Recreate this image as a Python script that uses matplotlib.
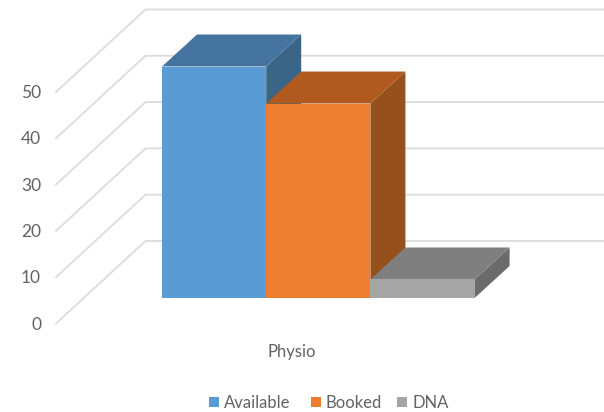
import matplotlib
matplotlib.use('Agg')
import matplotlib.pyplot as plt
from matplotlib.patches import Polygon, Rectangle

plt.rcParams['font.family'] = ['Lato', 'DejaVu Sans']

category = "Physio"
series = ["Available", "Booked", "DNA"]
values = [50, 42, 4]
ticks = [0, 10, 20, 30, 40, 50]

front_colors = ['#5b9bd5', '#ed7d31', '#a5a5a5']
top_colors = ['#4674a0', '#b05a20', '#7f7f7f']
side_colors = ['#3a6587', '#96501b', '#6b6b6b']

# Achsen in Pixeln des Bildes, die 3D-Ansicht wird von Hand projiziert
fig = plt.figure(figsize=(6.04, 4.12), dpi=100)
ax = fig.add_axes([0, 0, 1, 1])
ax.set_xlim(0, 604)
ax.set_ylim(412, 0)
ax.axis('off')

x_front, y_zero = 56, 323.5
x_back, y_back = 145.5, 241
x_end = 604
px_per_unit = 4.63

bar_left, bar_width, bar_base = 162, 104.2, 298
dx, dy = 35, -32

grid = '#dcdcdc'
text_col = '#636363'

for t in ticks:
    h = t * px_per_unit
    ax.plot([x_front, x_back, x_end], [y_zero - h, y_back - h, y_back - h],
            color=grid, lw=1.3, solid_joinstyle='miter', zorder=1)
    ax.text(41, y_zero - h + 1, str(t), ha='right', va='center',
            fontsize=12.5, color=text_col)

for i, v in enumerate(values):
    left = bar_left + i * bar_width
    right = left + bar_width
    top = bar_base - v * px_per_unit
    z = 2 + i
    ax.add_patch(Polygon([(right, top), (right + dx, top + dy),
                          (right + dx, bar_base + dy), (right, bar_base)],
                         closed=True, fc=side_colors[i], ec='none', zorder=z))
    ax.add_patch(Polygon([(left, top), (left + dx, top + dy),
                          (right + dx, top + dy), (right, top)],
                         closed=True, fc=top_colors[i], ec='none', zorder=z))
    ax.add_patch(Rectangle((left, top), bar_width, bar_base - top,
                           fc=front_colors[i], ec='none', zorder=z))

ax.text(291.5, 351.5, category, ha='center', va='center', fontsize=12,
        color=text_col)

# Legende
legend_x = [209, 311, 397]
legend_text_x = [224, 325.5, 412]
for name, col, lx, tx in zip(series, front_colors, legend_x, legend_text_x):
    ax.add_patch(Rectangle((lx, 397), 10, 10, fc=col, ec='none'))
    ax.text(tx, 402.5, name, ha='left', va='center', fontsize=12,
            color=text_col)

fig.savefig('out.png', dpi=100)
